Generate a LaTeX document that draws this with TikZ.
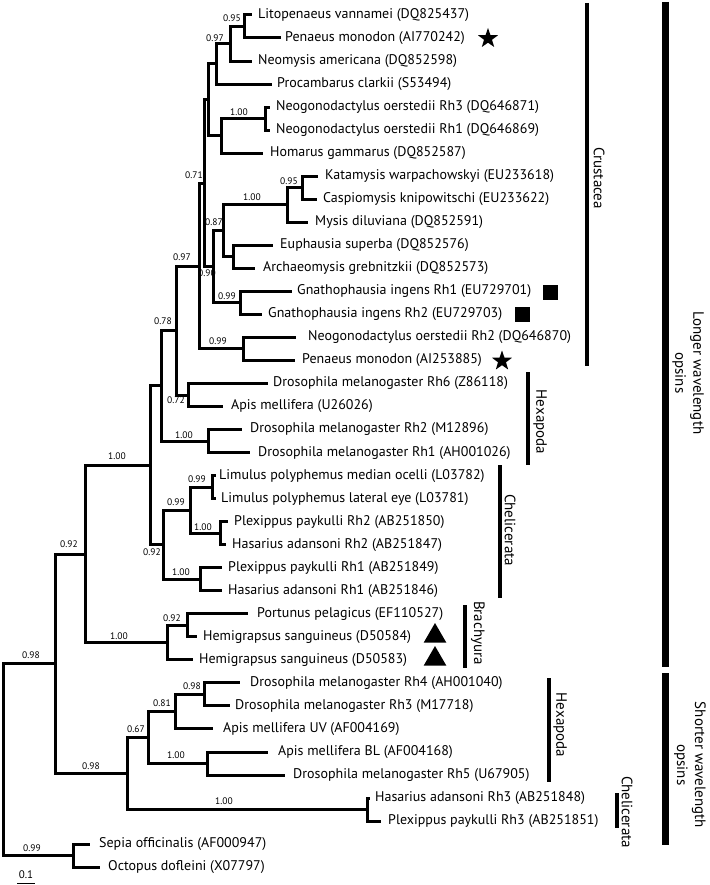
\documentclass[tikz,border=0pt]{standalone}
\usepackage{fontspec}
\setmainfont{PT Sans}
\usetikzlibrary{shapes.geometric}
\begin{document}
\begin{tikzpicture}[x=1pt,y=-1pt,
  br/.style={line width=3pt, line join=miter},
  leaf/.style={anchor=west, inner sep=0pt, font=\fontsize{14}{16}\selectfont},
  bs/.style={inner sep=0pt, font=\fontsize{9.5}{11}\selectfont},
  grp/.style={rotate=-90, inner sep=0pt, align=center, font=\fontsize{15}{18}\selectfont},
  gbar/.style={line width=4pt},
  bigbar/.style={line width=7pt},
  starmark/.style={star, star points=5, star point ratio=2.5, fill=black, inner sep=0pt, minimum size=21pt},
  sqmark/.style={fill=black, inner sep=0pt, minimum size=15pt},
  trimark/.style={regular polygon, regular polygon sides=3, fill=black, inner sep=0pt, minimum size=26pt}]
\useasboundingbox (0,0) rectangle (709,885);
% internal nodes
\coordinate (R) at (3,759.7);
\coordinate (n55) at (55,663.8);
\coordinate (n85) at (85,554.0);
\coordinate (n150) at (150,465.3);
\coordinate (n161) at (161,385.9);
\coordinate (n176) at (176,330.6);
\coordinate (n199) at (199,266.2);
\coordinate (n204) at (204,183.4);
\coordinate (n207) at (208,99.9);
\coordinate (n216) at (216,63.9);
\coordinate (n230) at (230,43.8);
\coordinate (n245) at (244,26.5);
\coordinate (n221) at (221,135.9);
\coordinate (n265) at (265,118.6);
\coordinate (n213) at (213,266.9);
\coordinate (n223) at (223,230.9);
\coordinate (n287) at (287,205.0);
\coordinate (n302) at (302,187.7);
\coordinate (n233) at (233,256.8);
\coordinate (n240) at (240,302.9);
\coordinate (n243) at (243,348.9);
\coordinate (n188) at (188,395.0);
\coordinate (n208) at (208,441.1);
\coordinate (n163) at (163,544.7);
\coordinate (n190) at (190,510.2);
\coordinate (n212) at (212,487.1);
\coordinate (n220) at (220,533.2);
\coordinate (n200) at (200,579.2);
\coordinate (n167) at (167,642.6);
\coordinate (n187) at (187,625.3);
\coordinate (n127) at (127,773.6);
\coordinate (n148) at (148,737.6);
\coordinate (n175) at (175,711.7);
\coordinate (n204b) at (204,694.4);
\coordinate (n207b) at (207,763.5);
\coordinate (n367) at (367,809.5);
\coordinate (n73) at (73,855.6);
% internal edges
\foreach \a/\b in {R/n55,R/n73,n55/n85,n55/n127,n85/n150,n85/n167,n150/n161,n150/n163,
  n161/n176,n161/n208,n176/n199,n176/n188,n199/n204,n199/n243,n204/n207,n204/n213,
  n207/n216,n207/n221,n216/n230,n230/n245,n221/n265,n213/n223,n213/n240,n223/n287,
  n223/n233,n287/n302,n163/n190,n163/n200,n190/n212,n190/n220,n167/n187,n127/n148,
  n127/n367,n148/n175,n148/n207b,n175/n204b}
  \draw[br] (\a) |- (\b);
% leaves
\foreach \p/\tx/\lx/\y/\t [count=\i] in {
 n245/252/258/15.0/{Litopenaeus vannamei (DQ825437)},
 n245/281/285/38.0/{Penaeus monodon (AI770242)},
 n230/252/258/61.1/{Neomysis americana (DQ852598)},
 n216/272/277/84.1/{Procambarus clarkii (S53494)},
 n265/270/276/107.1/{Neogonodactylus oerstedii Rh3 (DQ646871)},
 n265/270/276/130.2/{Neogonodactylus oerstedii Rh1 (DQ646869)},
 n221/263/270/153.2/{Homarus gammarus (DQ852587)},
 n302/318/325/176.2/{Katamysis warpachowskyi (EU233618)},
 n302/317/323/199.2/{Caspiomysis knipowitschi (EU233622)},
 n287/308/315/222.3/{Mysis diluviana (DQ852591)},
 n233/273/280/245.3/{Euphausia superba (DQ852576)},
 n233/255/263/268.3/{Archaeomysis grebnitzkii (DQ852573)},
 n240/292/297/291.4/{Gnathophausia ingens Rh1 (EU729701)},
 n240/262/268/314.4/{Gnathophausia ingens Rh2 (EU729703)},
 n243/296/308/337.4/{Neogonodactylus oerstedii Rh2 (DQ646870)},
 n243/295/302/360.5/{Penaeus monodon (AI253885)},
 n188/268/273/383.5/{Drosophila melanogaster Rh6 (Z86118)},
 n188/223/231/406.5/{Apis mellifera (U26026)},
 n208/242/250/429.5/{Drosophila melanogaster Rh2 (M12896)},
 n208/250/258/452.6/{Drosophila melanogaster Rh1 (AH001026)},
 n212/216/219/475.6/{Limulus polyphemus median ocelli (L03782)},
 n212/216/221/498.6/{Limulus polyphemus lateral eye (L03781)},
 n220/228/234/521.7/{Plexippus paykulli Rh2 (AB251850)},
 n220/226/232/544.7/{Hasarius adansoni Rh2 (AB251847)},
 n200/222/228/567.7/{Plexippus paykulli Rh1 (AB251849)},
 n200/222/228/590.8/{Hasarius adansoni Rh1 (AB251846)},
 n187/248/257/613.8/{Portunus pelagicus (EF110527)},
 n187/197/203/636.8/{Hemigrapsus sanguineus (D50584)},
 n167/193/199/659.8/{Hemigrapsus sanguineus (D50583)},
 n204b/240/250/682.9/{Drosophila melanogaster Rh4 (AH001040)},
 n204b/230/235/705.9/{Drosophila melanogaster Rh3 (M17718)},
 n175/213/223/728.9/{Apis mellifera UV (AF004169)},
 n207b/268/278/752.0/{Apis mellifera BL (AF004168)},
 n207b/285/293/775.0/{Drosophila melanogaster Rh5 (U67905)},
 n367/370/375/798.0/{Hasarius adansoni Rh3 (AB251848)},
 n367/381/388/821.1/{Plexippus paykulli Rh3 (AB251851)},
 n73/90/99/844.1/{Sepia officinalis (AF000947)},
 n73/100/108/867.1/{Octopus dofleini (X07797)}}
 {
  \coordinate (T\i) at (\tx,\y);
  \node[leaf] (L\i) at (\lx,\y) {\t};
  \draw[br] (\p) |- (T\i);
 }
% support values
\foreach \x/\y/\t [count=\i] in {
 232/18/0.95, 215/38/0.97, 239/112/1.00, 194/175/0.71, 252/197/1.00, 214/222/0.87,
 207/273/0.90, 289/181/0.95, 227/296/0.99, 182/257/0.97, 163/321/0.78, 218/341/0.99,
 176/400/0.72, 184/435/1.00, 117/456/1.00, 197/479/0.99, 176/502/0.99, 203/527/1.00,
 152/552/0.92, 181/572/1.00, 69/544/0.92, 119/636/1.00, 172/618/0.92, 31/655/0.98,
 192/686/0.98, 162/703/0.81, 136/729/0.67, 176/755/1.00, 91/766/0.98, 224/801/1.00,
 32/848/0.99}
 \node[bs] (B\i) at (\x,\y) {\t};
% markers
\node[starmark] (S1) at (488,38.5) {};
\node[starmark] (S2) at (502,361) {};
\node[sqmark] (Q1) at (550,292) {};
\node[sqmark] (Q2) at (522.5,314.5) {};
\node[trimark] (M1) at (435,636) {};
\node[trimark] (M2) at (435,659) {};
% group bars
\draw[gbar] (587,3) -- (587,366);
\node[grp] (gCr) at (599,178) {Crustacea};
\draw[gbar] (528,372) -- (528,465);
\node[grp] (gHx1) at (540,422) {Hexapoda};
\draw[gbar] (500,465) -- (500,598);
\node[grp] (gCh1) at (510,530) {Chelicerata};
\draw[gbar] (465,605) -- (465,668);
\node[grp] (gBr) at (478,633) {Brachyura};
\draw[gbar] (549,678) -- (549,782);
\node[grp] (gHx2) at (560,725) {Hexapoda};
\draw[gbar] (616.5,793) -- (616.5,828);
\node[grp] (gCh2) at (627,812) {Chelicerata};
\draw[bigbar] (665.5,2) -- (665.5,667);
\node[grp] (gLong) at (688,373) {Longer wavelength\\opsins};
\draw[bigbar] (665.5,673) -- (665.5,845);
\node[grp] (gShort) at (690,765) {Shorter wavelength\\opsins};
% scale
\node[bs, font=\fontsize{11}{13}\selectfont] (sc) at (26,875) {0.1};
\draw[line width=1pt] (17,883) -- (35,883);
\end{tikzpicture}
\end{document}
